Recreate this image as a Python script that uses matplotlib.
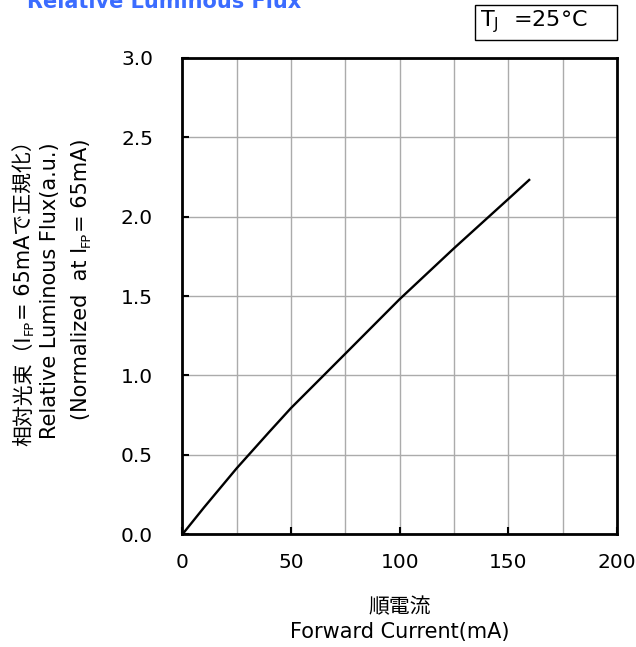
import numpy as np
import matplotlib.pyplot as plt
from matplotlib.patches import Rectangle

plt.rcParams['font.family'] = ['DejaVu Sans', 'Noto Sans CJK JP']
plt.rcParams['mathtext.fontset'] = 'dejavusans'

# forward current (mA) vs relative luminous flux
current = [0, 10, 25, 40, 50, 65, 75, 100, 125, 150, 160]
flux = [0, 0.17, 0.416, 0.645, 0.795, 1.0, 1.137, 1.48, 1.80, 2.11, 2.235]

x_ticks = [0, 50, 100, 150, 200]
y_ticks = [0.0, 0.5, 1.0, 1.5, 2.0, 2.5, 3.0]

W, H = 636, 647
fig = plt.figure(figsize=(W / 100, H / 100), dpi=100)
ax = fig.add_axes([0.2866, 0.1739, 0.6835, 0.7372])

ax.plot(current, flux, color='black', lw=1.7, solid_capstyle='butt')

ax.set_xlim(0, 200)
ax.set_ylim(0, 3.0)
ax.set_xticks(x_ticks)
ax.set_xticks(np.arange(0, 201, 25), minor=True)
ax.set_yticks(y_ticks)
ax.set_yticklabels(['%.1f' % v for v in y_ticks])
ax.tick_params(axis='both', which='major', direction='in', length=5, width=1.5, labelsize=14.5)
ax.tick_params(axis='y', which='major', pad=21)
ax.tick_params(axis='x', which='major', pad=13.5)
ax.tick_params(axis='x', which='minor', length=0)
ax.grid(True, which='both', color='#ababab', lw=1)
ax.set_axisbelow(True)
for s in ax.spines.values():
    s.set_linewidth(2)

renderer = fig.canvas.get_renderer()


def vtext(xb, yc, parts, fs):
    # rotated text made of pieces so subscripts keep the font fallback
    texts = []
    for s, sub in parts:
        t = fig.text(0, 0, s, rotation=90, rotation_mode='anchor', ha='left',
                     va='baseline', fontsize=fs * 0.62 if sub else fs)
        texts.append(t)
    lens = [t.get_window_extent(renderer).height for t in texts]
    y = (H - yc) - sum(lens) / 2
    for t, L, (s, sub) in zip(texts, lens, parts):
        x = xb + (3 if sub else 0)
        t.set_position((x / W, y / H))
        y += L


vtext(30, 288, [('相対光束（I', False), ('FP', True), ('= 65mAで正規化）', False)], 15)
vtext(56, 291, [('Relative Luminous Flux(a.u.)', False)], 15)
vtext(87, 279, [('(Normalized  at I', False), ('FP', True), ('= 65mA)', False)], 15)

# x axis label
fig.text(0.628, 1 - 607 / H, '順電流', ha='center', va='center', fontsize=15)
fig.text(0.628, 1 - 632 / H, 'Forward Current(mA)', ha='center', va='center', fontsize=15)

# title, cut off at the top edge
fig.text(27 / W, 1 - 8 / H, 'Relative Luminous Flux', ha='left', va='baseline',
         fontsize=15, fontweight='bold', color='#3b6cff')

# junction temperature box
fig.patches.append(Rectangle((475 / W, 1 - 40 / H), 142 / W, 35 / H, transform=fig.transFigure,
                             fill=False, edgecolor='black', lw=1))
fig.text(480 / W, 1 - 22 / H, '$\\mathregular{T_J}$  =25°C', ha='left', va='center', fontsize=16)

fig.savefig('out.png', dpi=100)
